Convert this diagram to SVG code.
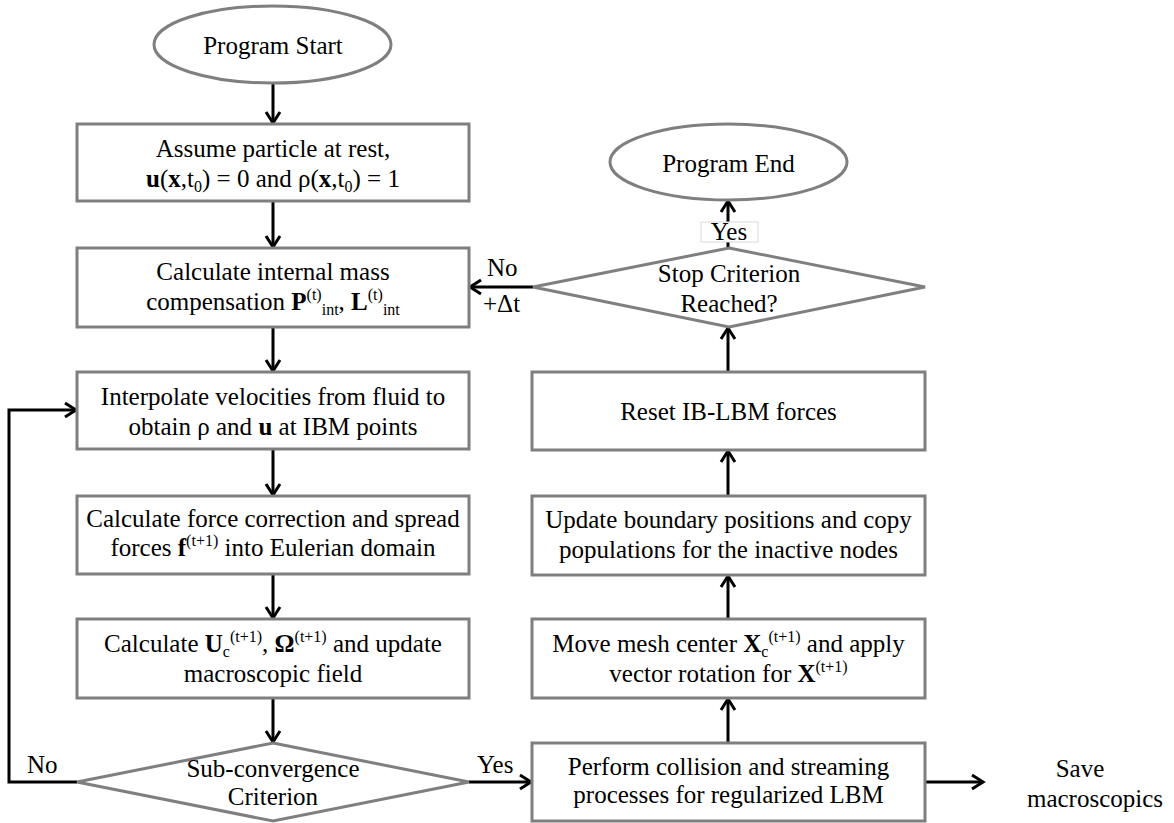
<svg xmlns="http://www.w3.org/2000/svg" width="1174" height="823" viewBox="0 0 1174 823">
  <style>
    .node { fill: #ffffff; stroke: #7f7f7f; stroke-width: 3; }
    .t { font-family: "Liberation Serif", "Times New Roman", serif; font-size: 25px; fill: #000; text-anchor: middle; }
    .lbl { font-family: "Liberation Serif", "Times New Roman", serif; font-size: 25px; fill: #000; }
    .s { font-size: 16px; }
    .b { font-weight: bold; }
    .edge { fill: none; stroke: #000; stroke-width: 3; }
  </style>
  <defs>
    <marker id="arr" viewBox="0 0 14 16" refX="12" refY="8" markerWidth="14" markerHeight="16" markerUnits="userSpaceOnUse" orient="auto" overflow="visible">
      <path d="M1,1 L12,8 L1,15" fill="none" stroke="#000" stroke-width="3"/>
    </marker>
  </defs>

  <g id="connectors">
    <line class="edge" x1="273" y1="83" x2="273" y2="123" marker-end="url(#arr)"/>
    <line class="edge" x1="273" y1="201" x2="273" y2="247" marker-end="url(#arr)"/>
    <line class="edge" x1="273" y1="327" x2="273" y2="371" marker-end="url(#arr)"/>
    <line class="edge" x1="273" y1="449" x2="273" y2="495" marker-end="url(#arr)"/>
    <line class="edge" x1="273" y1="574" x2="273" y2="618" marker-end="url(#arr)"/>
    <line class="edge" x1="273" y1="698" x2="273" y2="742" marker-end="url(#arr)"/>
    <polyline class="edge" points="77,782 9,782 9,410 76,410" marker-end="url(#arr)"/>
    <line class="edge" x1="469" y1="782" x2="531" y2="782" marker-end="url(#arr)"/>
    <line class="edge" x1="925" y1="782" x2="983" y2="782" marker-end="url(#arr)"/>
    <line class="edge" x1="728" y1="743" x2="728" y2="699" marker-end="url(#arr)"/>
    <line class="edge" x1="728" y1="619" x2="728" y2="576" marker-end="url(#arr)"/>
    <line class="edge" x1="728" y1="496" x2="728" y2="451" marker-end="url(#arr)"/>
    <line class="edge" x1="728" y1="372" x2="728" y2="328" marker-end="url(#arr)"/>
    <line class="edge" x1="728" y1="248" x2="728" y2="201" marker-end="url(#arr)"/>
    <line class="edge" x1="533" y1="287" x2="470" y2="287" marker-end="url(#arr)"/>
    <g id="edge-labels">
      <text class="lbl" x="27" y="773">No</text>
      <text class="lbl" x="477" y="773">Yes</text>
      <text class="lbl" x="487" y="276">No</text>
      <text class="lbl" x="483" y="312">+Δt</text>
      <rect x="701" y="222" width="57" height="20" fill="#ffffff" stroke="#d9d9d9" stroke-width="1"/>
      <text class="t" x="729" y="240">Yes</text>
    </g>
  </g>

  <g id="start">
    <ellipse class="node" cx="272.5" cy="44.5" rx="118.5" ry="38.5"/>
    <text class="t" x="273" y="54">Program Start</text>
  </g>

  <g id="init">
    <rect class="node" x="77" y="124" width="392" height="77"/>
    <text class="t" x="273" y="157">Assume particle at rest,</text>
    <text class="t" x="273" y="187"><tspan class="b">u</tspan>(<tspan class="b">x</tspan>,t<tspan class="s" dy="5">0</tspan><tspan dy="-5">) = 0 and ρ(</tspan><tspan class="b">x</tspan>,t<tspan class="s" dy="5">0</tspan><tspan dy="-5">) = 1</tspan></text>
  </g>

  <g id="mass">
    <rect class="node" x="77" y="248" width="392" height="79"/>
    <text class="t" x="273" y="280">Calculate internal mass</text>
    <text class="t" x="273" y="310">compensation <tspan class="b">P</tspan><tspan class="s" dy="-10">(t)</tspan><tspan class="s" dy="15">int</tspan><tspan dy="-5">, </tspan><tspan class="b">L</tspan><tspan class="s" dy="-10">(t)</tspan><tspan class="s" dy="15">int</tspan></text>
  </g>

  <g id="interp">
    <rect class="node" x="77" y="372" width="392" height="77"/>
    <text class="t" x="273" y="405">Interpolate velocities from fluid to</text>
    <text class="t" x="273" y="435">obtain ρ and <tspan class="b">u</tspan> at IBM points</text>
  </g>

  <g id="force">
    <rect class="node" x="77" y="496" width="392" height="78"/>
    <text class="t" x="273" y="527">Calculate force correction and spread</text>
    <text class="t" x="273" y="556">forces <tspan class="b">f</tspan><tspan class="s" dy="-10">(t+1)</tspan><tspan dy="10"> into Eulerian domain</tspan></text>
  </g>

  <g id="macro">
    <rect class="node" x="77" y="619" width="392" height="79"/>
    <text class="t" x="273" y="652">Calculate <tspan class="b">U</tspan><tspan class="s" dy="5">c</tspan><tspan class="s" dy="-15">(t+1)</tspan><tspan dy="10">, </tspan><tspan class="b">Ω</tspan><tspan class="s" dy="-10">(t+1)</tspan><tspan dy="10"> and update</tspan></text>
    <text class="t" x="273" y="682">macroscopic field</text>
  </g>

  <g id="subconv">
    <polygon class="node" points="273,743 469,782 273,821 77,782"/>
    <text class="t" x="273" y="777">Sub-convergence</text>
    <text class="t" x="273" y="805">Criterion</text>
  </g>

  <g id="collision">
    <rect class="node" x="532" y="743" width="393" height="78"/>
    <text class="t" x="728.5" y="775">Perform collision and streaming</text>
    <text class="t" x="728.5" y="803">processes for regularized LBM</text>
  </g>

  <g id="save">
    <text class="t" x="1080" y="777">Save</text>
    <text class="t" x="1095" y="807">macroscopics</text>
  </g>

  <g id="move">
    <rect class="node" x="532" y="619" width="393" height="79"/>
    <text class="t" x="728.5" y="652">Move mesh center <tspan class="b">X</tspan><tspan class="s" dy="5">c</tspan><tspan class="s" dy="-15">(t+1)</tspan><tspan dy="10"> and apply</tspan></text>
    <text class="t" x="728.5" y="682">vector rotation for <tspan class="b">X</tspan><tspan class="s" dy="-10">(t+1)</tspan></text>
  </g>

  <g id="update">
    <rect class="node" x="532" y="496" width="393" height="79"/>
    <text class="t" x="728.5" y="528">Update boundary positions and copy</text>
    <text class="t" x="728.5" y="558">populations for the inactive nodes</text>
  </g>

  <g id="reset">
    <rect class="node" x="532" y="372" width="393" height="78"/>
    <text class="t" x="728.5" y="420">Reset IB-LBM  forces</text>
  </g>

  <g id="stop">
    <polygon class="node" points="729,248 925,287 729,327 533,287"/>
    <text class="t" x="729" y="282">Stop Criterion</text>
    <text class="t" x="729" y="312">Reached?</text>
  </g>

  <g id="end">
    <ellipse class="node" cx="728.5" cy="162" rx="118.5" ry="38"/>
    <text class="t" x="728.5" y="172">Program End</text>
  </g>
</svg>
